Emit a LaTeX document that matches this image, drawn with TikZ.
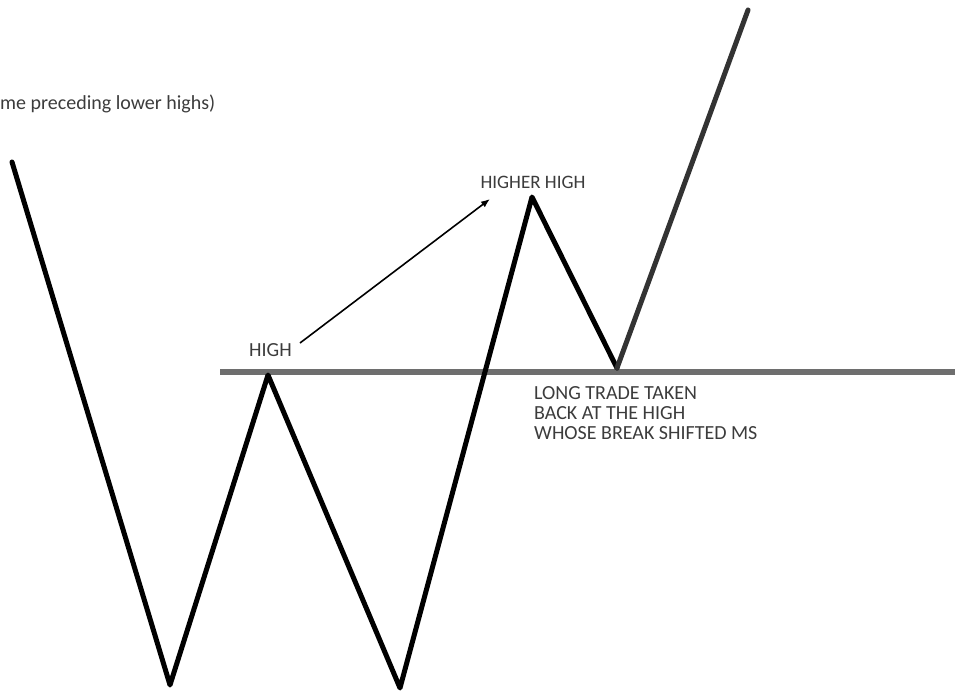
\documentclass[tikz,border=0pt]{standalone}
\usepackage{fontspec}
\setmainfont{Carlito}
\usepackage{tikz}
\usetikzlibrary{positioning,arrows.meta}
\definecolor{txtgray}{HTML}{3C3C3C}
\definecolor{levelgray}{HTML}{6E6E6E}
\definecolor{legdark}{HTML}{333333}

\begin{document}
\begin{tikzpicture}[
		x=1pt, y=-1pt,
		font=\fontsize{20}{20}\selectfont,
		lbl/.style={text=txtgray, inner sep=1pt},
		swing/.style={line width=5pt, line join=round, line cap=round, black},
		level/.style={line width=6pt, levelgray},
		arr/.style={-{Latex[length=9pt,width=7pt]}, line width=1.6pt}
		]
		\useasboundingbox (0,0) rectangle (955,694);
		% swing points
		\coordinate (start) at (12,162);
		\coordinate (low1) at (170,685);
		\coordinate (high) at (268,375);
		\coordinate (low2) at (400,688);
		\coordinate (hh) at (532,197);
		\coordinate (retest) at (617,368);
		\coordinate (top) at (748,10);
		\coordinate (lvlL) at (220,372);
		\coordinate (lvlR) at (955,372);
		% level of the broken high
		\draw[level] (lvlL) -- (lvlR);
		\draw[swing] (start) -- (low1) -- (high) -- (low2) -- (hh) -- (retest);
		\draw[swing, legdark] (retest) -- (top);
		% labels
		\node[lbl, anchor=west, inner sep=0pt] (note) at (0,104) {me preceding lower highs)};
		\node[lbl, anchor=west] (highlbl) at (248,350) {HIGH};
		\node[lbl, font=\fontsize{19}{20}\selectfont] (hhlbl) at (533,182) {HIGHER HIGH};
		\node[lbl, anchor=north west, align=left] (trade) at (533,385)
		{LONG TRADE TAKEN\\BACK AT THE HIGH\\WHOSE BREAK SHIFTED MS};
		\coordinate (arrS) at (300,343);
		\coordinate (arrE) at (490,199);
		\draw[arr] (arrS) -- (arrE);
	\end{tikzpicture}
\end{document}
